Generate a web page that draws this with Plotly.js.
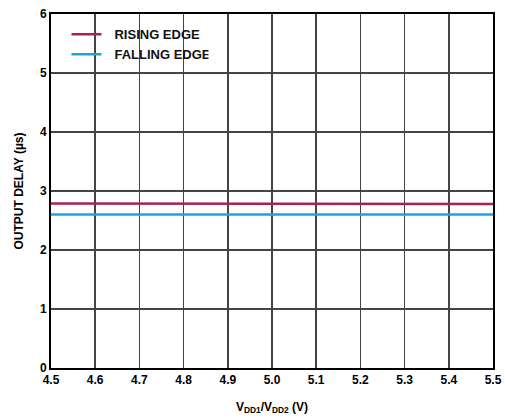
<!DOCTYPE html>
<html><head><meta charset="utf-8">
<script src="https://cdn.plot.ly/plotly-3.0.1.min.js"></script>
<style>html,body{margin:0;padding:0;background:#fff}#chart{width:505px;height:418px}</style>
</head><body><div id="chart"></div>
<script>
const vdd = [4.5, 4.6, 4.7, 4.8, 4.9, 5.0, 5.1, 5.2, 5.3, 5.4, 5.5];
const risingEdge = [2.79, 2.79, 2.79, 2.79, 2.79, 2.79, 2.79, 2.79, 2.785, 2.78, 2.78];
const fallingEdge = [2.6, 2.6, 2.6, 2.6, 2.6, 2.6, 2.6, 2.6, 2.6, 2.6, 2.6];
const xTicks = ['4.5','4.6','4.7','4.8','4.9','5.0','5.1','5.2','5.3','5.4','5.5'];
const font = {family: 'Liberation Sans, Arial, sans-serif', size: 12, color: '#000', weight: 'bold'};
const traces = [
  {x: vdd, y: risingEdge, mode: 'lines', name: 'RISING EDGE', line: {color: '#a8244a', width: 2.5}},
  {x: vdd, y: fallingEdge, mode: 'lines', name: 'FALLING EDGE', line: {color: '#1aa3dc', width: 2.5}}
];
const layout = {
  width: 505, height: 418,
  margin: {l: 51, r: 12, t: 14, b: 50},
  paper_bgcolor: '#fff', plot_bgcolor: '#fff',
  font: font,
  showlegend: true,
  legend: {x: 0.035, y: 0.985, xanchor: 'left', yanchor: 'top', bgcolor: 'rgba(0,0,0,0)', itemwidth: 30,
    font: {family: 'Liberation Sans, Arial, sans-serif', size: 13, color: '#111', weight: 'bold'}, tracegroupgap: 0},
  xaxis: {range: [4.5, 5.5], tickvals: vdd, ticktext: xTicks, showgrid: true, gridcolor: '#444', gridwidth: 1.5,
    showline: true, linecolor: '#000', linewidth: 2, mirror: true, zeroline: false, ticks: '',
    tickfont: font,
    title: {text: 'V<sub>DD1</sub>/V<sub>DD2</sub> (V)', font: font, standoff: 16}},
  yaxis: {range: [0, 6], dtick: 1, showgrid: true, gridcolor: '#444', gridwidth: 1.5,
    showline: true, linecolor: '#000', linewidth: 2, mirror: true, zeroline: false, ticks: '',
    tickfont: font,
    title: {text: 'OUTPUT DELAY (µs)', font: font, standoff: 14}}
};
Plotly.newPlot('chart', traces, layout, {displayModeBar: false, staticPlot: true});
Plotly.restyle; 
</script>
<script>
// widen the gap between legend line and text slightly by shifting legend text
(function(){
  const gd = document.getElementById('chart');
  const fix = () => {
    gd.querySelectorAll('.legend .legendtext').forEach(t => {
      const x = parseFloat(t.getAttribute('x')) || 40;
      t.setAttribute('x', x + 8);
    });
  };
  if (gd._fullLayout) fix();
})();
</script></body></html>
